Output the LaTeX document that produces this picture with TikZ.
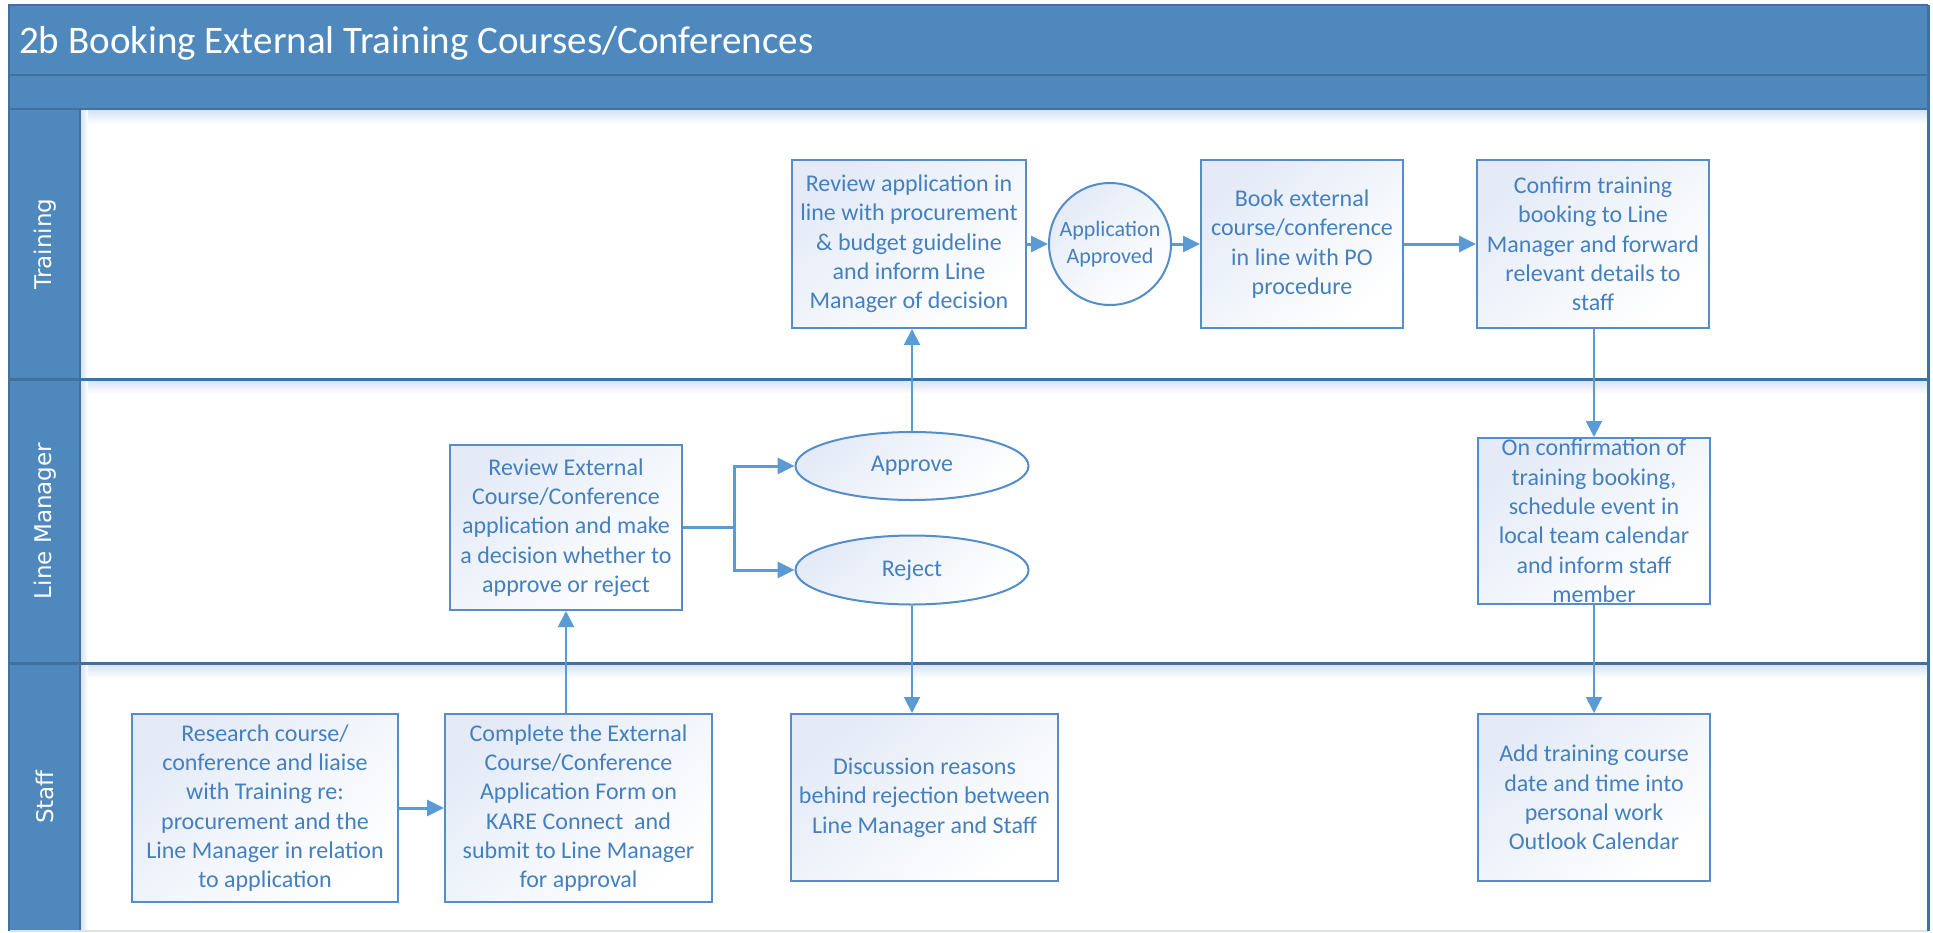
\documentclass[tikz,border=0pt]{standalone}
\usepackage{fontspec}
\setmainfont{Carlito}
\newfontfamily\lanefont{DejaVu Sans}
\usetikzlibrary{arrows.meta,calc,shapes.geometric}

\definecolor{hdr}{RGB}{79,136,188}
\definecolor{hdrdark}{RGB}{65,113,158}
\definecolor{boxline}{RGB}{84,141,201}
\definecolor{boxtint}{RGB}{228,235,247}
\definecolor{txtblue}{RGB}{68,128,192}
\definecolor{connc}{RGB}{91,155,213}
\definecolor{shadowc}{RGB}{214,226,241}
\definecolor{edgegray}{RGB}{220,226,232}

\tikzset{
  proc/.style={draw=boxline, line width=2pt, top color=boxtint, bottom color=white,
    shading angle=40, text=txtblue, font=\fontsize{24}{29.3}\selectfont,
    align=center, inner sep=0pt},
  circ/.style={proc, shape=circle, font=\fontsize{22}{27}\selectfont},
  oval/.style={proc, shape=ellipse},
  conn/.style={draw=connc, line width=3pt, -{Triangle[length=17pt,width=16pt]}},
  connv/.style={draw=connc, line width=2pt, -{Triangle[length=16pt,width=16pt]}},
  plain/.style={draw=connc, line width=3pt},
  lanelabel/.style={text=white, font=\lanefont\fontsize{23}{27}\selectfont, rotate=90, inner sep=0pt},
}

\begin{document}
\begin{tikzpicture}[x=1pt, y=-1pt]
\useasboundingbox (0,0) rectangle (1933,932);

% pool header and lane header column
\fill[white] (9,5) rectangle (1928,931);
\fill[hdr] (9,5) rectangle (1928,109);
\fill[hdr] (9,109) rectangle (80,931);

% soft shadows beneath the lane borders
\shade[top color=shadowc, bottom color=white] (81,110) rectangle (1927,124);
\shade[top color=shadowc, bottom color=white] (81,380) rectangle (1927,394);
\shade[top color=shadowc, bottom color=white] (81,664) rectangle (1927,678);
\shade[left color=shadowc, right color=white] (81,110) rectangle (88,931);

% frame and lane borders
\draw[hdrdark, line width=2pt] (9,75) -- (1928,75);
\draw[hdrdark, line width=2.5pt] (9,109) -- (1928,109);
\draw[hdrdark, line width=3pt] (9,379) -- (1928,379);
\draw[hdrdark, line width=3pt] (9,663) -- (1928,663);
\draw[hdrdark, line width=1.5pt] (80,109) -- (80,931);
\draw[edgegray, line width=1.5pt] (9,931) -- (1928,931);
\draw[hdrdark, line width=1.5pt] (9,931) -- (9,5) -- (1928,5);
\draw[hdrdark, line width=3pt] (1928,5) -- (1928,931);

% title and lane names
\node[anchor=base west, text=white, font=\fontsize{39}{46}\selectfont, inner sep=0pt]
  (title) at (19,53) {2b Booking External Training Courses/Conferences};
\node[lanelabel] (laneTraining) at (45,244) {Training};
\node[lanelabel] (laneManager) at (45,521) {Line Manager};
\node[lanelabel] (laneStaff) at (45,797) {Staff};

% Training lane
\node[proc, minimum width=234, minimum height=168] (revapp) at (909,244)
  {Review application in\\line with procurement\\\& budget guideline\\and inform Line\\Manager of decision};
\node[circ, minimum size=122] (approved) at (1110,244) {Application\\Approved};
\node[proc, minimum width=202, minimum height=168] (book) at (1302,244)
  {Book external\\course/conference\\in line with PO\\procedure};
\node[proc, minimum width=232, minimum height=168] (confirm) at (1593,244)
  {Confirm training\\booking to Line\\Manager and forward\\relevant details to\\staff};

% Line Manager lane
\node[proc, minimum width=232, minimum height=165] (revext) at (566,527.5)
  {Review External\\Course/Conference\\application and make\\a decision whether to\\approve or reject};
\node[oval, minimum width=233, minimum height=68] (approve) at (912,466) {Approve};
\node[oval, minimum width=233, minimum height=69] (reject) at (912,570) {Reject};
\node[proc, minimum width=232, minimum height=166] (onconf) at (1594,521)
  {On confirmation of\\training booking,\\schedule event in\\local team calendar\\and inform staff\\member};

% Staff lane
\node[proc, minimum width=266, minimum height=188] (research) at (265,808)
  {Research course/\\conference and liaise\\with Training re:\\procurement and the\\Line Manager in relation\\to application};
\node[proc, minimum width=267, minimum height=188] (complete) at (578.5,808)
  {Complete the External\\Course/Conference\\Application Form on\\KARE Connect~ and\\submit to Line Manager\\for approval};
\node[proc, minimum width=267, minimum height=167] (discuss) at (924.5,797.5)
  {Discussion reasons\\behind rejection between\\Line Manager and Staff};
\node[proc, minimum width=232, minimum height=167] (addtrain) at (1594,797.5)
  {Add training course\\date and time into\\personal work\\Outlook Calendar};

% connectors
\draw[conn] (research.east) -- (complete.west);
\draw[connv] (revext.south |- complete.north) -- (revext.south);
\coordinate (split) at ($(revext.east)+(51,0)$);
\draw[plain] (revext.east) -- (split);
\draw[conn] (split) |- (approve.west);
\draw[conn] (split) |- (reject.west);
\draw[connv] (approve.north) -- (approve.north |- revapp.south);
\draw[connv] (reject.south) -- (reject.south |- discuss.north);
\draw[conn] (revapp.east) -- (approved.west);
\draw[conn] (approved.east) -- (book.west);
\draw[conn] (book.east) -- (confirm.west);
\draw[connv] (onconf.north |- confirm.south) -- (onconf.north);
\draw[connv] (onconf.south) -- (addtrain.north);
\end{tikzpicture}
\end{document}
